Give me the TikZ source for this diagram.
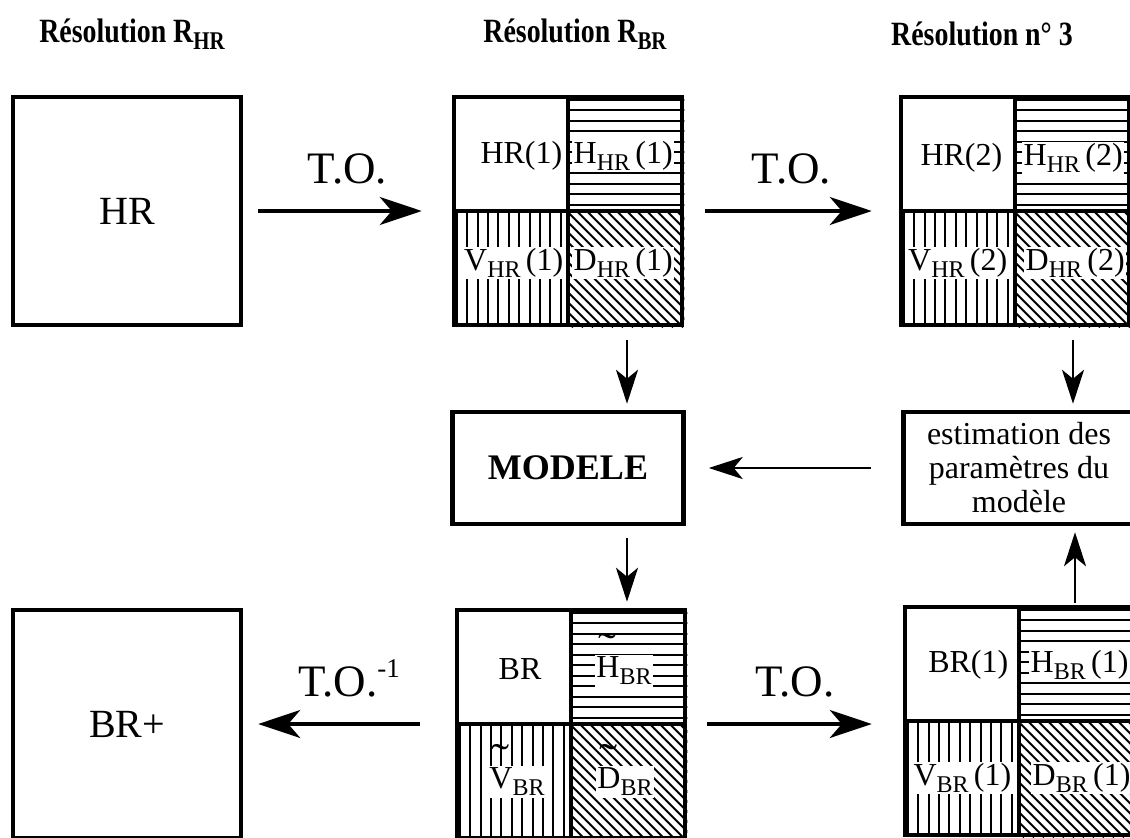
\documentclass[tikz,border=0pt]{standalone}
\usepackage{fontspec}
\setmainfont{Liberation Serif}
\newfontfamily\headfont{Liberation Serif}[FakeStretch=0.82]
\usepackage{graphicx}
\usetikzlibrary{positioning, arrows.meta}

\newcommand\bas[1]{\raisebox{-0.22em}{\scalebox{0.75}{#1}}}
\newcommand\tild[1]{\leavevmode\ooalign{#1\cr\hidewidth\raisebox{0.52em}{\scalebox{1.7}[1.3]{\char"02DC}}\hidewidth\cr}}
% hatching of the three detail quarters of a box
\newcommand\hatch[1]{%
  \begin{scope}
    \clip (#1.center) rectangle (#1.north east);
    \foreach \k in {0,...,11}
      \draw[line width=2.2pt] ([yshift=-\k*10.5pt-5pt]#1.north west) -- ++(240pt,0pt);
  \end{scope}
  \begin{scope}
    \clip (#1.center) rectangle (#1.south west);
    \foreach \k in {0,...,11}
      \draw[line width=2pt] ([xshift=\k*10.4pt+5pt]#1.south west) -- ++(0pt,120pt);
  \end{scope}
  \begin{scope}
    \clip (#1.center) rectangle (#1.south east);
    \foreach \k in {0,...,24}
      \draw[line width=1.8pt] ([xshift=\k*10pt-5pt]#1.south) -- ++(-130pt,130pt);
  \end{scope}
  \draw[line width=4pt] (#1.north) -- (#1.south) (#1.west) -- (#1.east);
}

\tikzset{
  bigbox/.style={draw, line width=4.5pt, minimum size=228pt, inner sep=0pt,
    font=\fontsize{40}{44}\selectfont},
  midbox/.style={draw, line width=4.5pt, minimum width=231pt, minimum height=112pt,
    inner sep=0pt, font=\fontsize{32}{34}\selectfont},
  lbl/.style={fill=white, inner sep=1.5pt, font=\fontsize{32}{34}\selectfont},
  head/.style={font=\headfont\bfseries\fontsize{34}{36}\selectfont},
  oplbl/.style={font=\fontsize{45}{48}\selectfont},
  flow/.style={line width=3.5pt, -{Stealth[length=42pt, width=28pt, inset=12pt]}},
  smallflow/.style={line width=2.5pt, -{Stealth[length=34pt, width=22pt, inset=9pt]}}
}

\begin{document}
\begin{tikzpicture}[x=1pt, y=-1pt, on grid]
   \useasboundingbox (0,0) rectangle (1130,838);

   % Column headings
   \node[head] (tA) at (132,34) {Résolution R\bas{HR}};
   \node[head] (tB) at (575,34) {Résolution R\bas{BR}};
   \node[head] (tC) at (982,34) {Résolution n° 3};

   % Boxes
   \node[bigbox] (hr) at (127,211) {HR};
   \node[bigbox] (hrone) [right=441pt of hr] {};
   \node[bigbox] (hrtwo) [right=447pt of hrone] {};
   \node[midbox, font=\bfseries\fontsize{36}{38}\selectfont] (modele) [below=257pt of hrone] {MODELE};
   \node[midbox, align=center] (estim) [below=257pt of hrtwo, xshift=4pt]
      {estimation des\\paramètres du\\modèle};
   \node[bigbox] (br) [below=256pt of modele, xshift=3pt] {};
   \node[bigbox] (brone) [right=448pt of br, yshift=3pt] {};
   \node[bigbox] (brplus) [left=444pt of br] {BR+};

   % Quarters
   \hatch{hrone}
   \hatch{hrtwo}
   \hatch{br}
   \hatch{brone}

   \node[lbl, anchor=east] (hrone-a) at ([xshift=-4pt,yshift=55pt]hrone.center) {HR(1)};
   \node[lbl, anchor=west] (hrone-h) at ([xshift=4pt,yshift=55pt]hrone.center) {H\bas{HR}\,(1)};
   \node[lbl, anchor=east] (hrone-v) at ([xshift=-3pt,yshift=-52pt]hrone.center) {V\bas{HR}\,(1)};
   \node[lbl, anchor=west] (hrone-d) at ([xshift=4pt,yshift=-52pt]hrone.center) {D\bas{HR}\,(1)};

   \node[lbl, anchor=east] (hrtwo-a) at ([xshift=-11pt,yshift=53pt]hrtwo.center) {HR(2)};
   \node[lbl, anchor=west] (hrtwo-h) at ([xshift=7pt,yshift=53pt]hrtwo.center) {H\bas{HR}\,(2)};
   \node[lbl, anchor=east] (hrtwo-v) at ([xshift=-6pt,yshift=-52pt]hrtwo.center) {V\bas{HR}\,(2)};
   \node[lbl, anchor=west] (hrtwo-d) at ([xshift=9pt,yshift=-52pt]hrtwo.center) {D\bas{HR}\,(2)};

   \node[lbl] (br-a) at ([xshift=-51pt,yshift=55pt]br.center) {BR};
   \node[lbl] (br-h) at ([xshift=53pt,yshift=53pt]br.center) {\tild{H}\bas{BR}};
   \node[lbl] (br-v) at ([xshift=-54pt,yshift=-58pt]br.center) {\tild{V}\bas{BR}};
   \node[lbl] (br-d) at ([xshift=54pt,yshift=-58pt]br.center) {\tild{D}\bas{BR}};

   \node[lbl, anchor=east] (brone-a) at ([xshift=-9pt,yshift=56pt]brone.center) {BR(1)};
   \node[lbl, anchor=west] (brone-h) at ([xshift=10pt,yshift=56pt]brone.center) {H\bas{BR}\,(1)};
   \node[lbl, anchor=east] (brone-v) at ([xshift=-6pt,yshift=-57pt]brone.center) {V\bas{BR}\,(1)};
   \node[lbl, anchor=west] (brone-d) at ([xshift=12pt,yshift=-57pt]brone.center) {D\bas{BR}\,(1)};

   % Transforms
   \draw[flow, shorten <=15pt, shorten >=30pt] (hr) -- node[oplbl, above=22pt] (to1) {T.O.} (hrone);
   \draw[flow, shorten <=21pt, shorten >=27pt] (hrone) -- node[oplbl, above=22pt] (to2) {T.O.} (hrtwo);
   \draw[flow, shorten <=35pt, shorten >=15pt] (br) -- node[oplbl, above=22pt] (to3)
      {T.O.\raisebox{0.42em}{\scalebox{0.6}{-1}}} (brplus);
   \draw[flow, shorten <=20pt, shorten >=31pt] (br.east) -- node[oplbl, above=22pt] (to4) {T.O.} (brone.west |- br.east);

   % Model loop
   \draw[smallflow, shorten <=13pt, shorten >=6pt] ([xshift=59pt]hrone.south) -- ([xshift=59pt]modele.north);
   \draw[smallflow, shorten <=12pt, shorten >=6pt] ([xshift=59pt]modele.south) -- ([xshift=56pt]br.north);
   \draw[smallflow, shorten <=13pt, shorten >=6pt] ([xshift=58pt]hrtwo.south) -- ([xshift=54pt]estim.north);
   \draw[smallflow, shorten <=2pt, shorten >=6pt] ([xshift=56pt]brone.north) -- ([xshift=56pt]estim.south);
   \draw[smallflow, shorten <=30pt, shorten >=23pt] (estim) -- (modele);
\end{tikzpicture}
\end{document}
